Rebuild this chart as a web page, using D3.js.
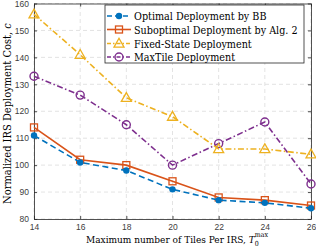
<!DOCTYPE html>
<html><head><meta charset="utf-8">
<script src="https://cdn.jsdelivr.net/npm/d3@7"></script>
<style>body{margin:0;background:#fff}svg{display:block}
.serif{font-family:'DejaVu Serif Condensed','DejaVu Serif',serif;font-stretch:condensed}</style>
</head><body>
<script>
const tiles = [14, 16, 18, 20, 22, 24, 26];
const optimalBB = [111, 101, 98, 91, 87, 86, 84];
const suboptimalAlg2 = [114, 102, 100, 94, 88, 87, 85];
const fixedState = [156, 141, 125, 118, 106, 106, 104];
const maxTile = [133, 126, 115, 100, 108, 116, 93];
const xTicks = [14, 16, 18, 20, 22, 24, 26];
const yTicks = [80, 90, 100, 110, 120, 130, 140, 150, 160];
const seriesNames = ["Optimal Deployment by BB", "Suboptimal Deployment by Alg. 2", "Fixed-State Deployment", "MaxTile Deployment"];

const W = 316, H = 250;
const m = {left: 34, right: 5, top: 3.5, bottom: 31};
const svg = d3.select("body").append("svg").attr("width", W).attr("height", H);
const x = d3.scaleLinear().domain([14, 26]).range([m.left, W - m.right]);
const y = d3.scaleLinear().domain([80, 160]).range([H - m.bottom, m.top]);
const axisCol = "#262626";

// grid
const g = svg.append("g");
g.selectAll(".gx").data(xTicks).enter().append("line")
  .attr("x1", d => x(d)).attr("x2", d => x(d)).attr("y1", y(80)).attr("y2", y(160))
  .attr("stroke", "#dcdcdc").attr("stroke-width", 0.8).attr("stroke-dasharray", "4,3");
g.selectAll(".gy").data(yTicks).enter().append("line")
  .attr("y1", d => y(d)).attr("y2", d => y(d)).attr("x1", x(14)).attr("x2", x(26))
  .attr("stroke", "#dcdcdc").attr("stroke-width", 0.8).attr("stroke-dasharray", "4,3");

// axes
const tickFont = "'Liberation Sans', Arial, sans-serif";
const xa = svg.append("g").attr("transform", `translate(0,${y(80)})`)
  .call(d3.axisBottom(x).tickValues(xTicks).tickSizeInner(-3).tickSizeOuter(0).tickPadding(5));
const xt = svg.append("g").attr("transform", `translate(0,${y(160)})`)
  .call(d3.axisTop(x).tickValues(xTicks).tickSizeInner(-3).tickSizeOuter(0).tickFormat(""));
const ya = svg.append("g").attr("transform", `translate(${x(14)},0)`)
  .call(d3.axisLeft(y).tickValues(yTicks).tickSizeInner(-3).tickSizeOuter(0).tickPadding(5));
const yr = svg.append("g").attr("transform", `translate(${x(26)},0)`)
  .call(d3.axisRight(y).tickValues(yTicks).tickSizeInner(-3).tickSizeOuter(0).tickFormat(""));
[xa, xt, ya, yr].forEach(a => {
  a.select(".domain").attr("stroke", axisCol).attr("stroke-width", 0.8);
  a.selectAll(".tick line").attr("stroke", axisCol).attr("stroke-width", 0.8);
  a.selectAll("text").attr("fill", "#404040").attr("font-family", tickFont).attr("font-size", 8.5);
});

// series
const series = [
  {name: seriesNames[0], vals: optimalBB, color: "#0072BD", dash: "6,3.5", marker: "dot"},
  {name: seriesNames[1], vals: suboptimalAlg2, color: "#D95319", dash: null, marker: "square"},
  {name: seriesNames[2], vals: fixedState, color: "#EDB120", dash: "6,2.5,1.5,2.5", marker: "triangle"},
  {name: seriesNames[3], vals: maxTile, color: "#7E2F8E", dash: "6,2.5,1.5,2.5", marker: "circle"}
];
function drawMarker(sel, s, cx, cy) {
  if (s.marker === "dot") {
    sel.append("circle").attr("cx", cx).attr("cy", cy).attr("r", 3.2).attr("fill", s.color);
  } else if (s.marker === "square") {
    sel.append("rect").attr("x", cx - 3.5).attr("y", cy - 3.5).attr("width", 7).attr("height", 7)
      .attr("fill", "none").attr("stroke", s.color).attr("stroke-width", 1.3);
  } else if (s.marker === "triangle") {
    sel.append("path").attr("d", `M${cx},${cy - 5.2}L${cx + 5},${cy + 3.6}L${cx - 5},${cy + 3.6}Z`)
      .attr("fill", "none").attr("stroke", s.color).attr("stroke-width", 1.3);
  } else {
    sel.append("circle").attr("cx", cx).attr("cy", cy).attr("r", 4)
      .attr("fill", "none").attr("stroke", s.color).attr("stroke-width", 1.4);
  }
}
const line = d3.line().x((d, i) => x(tiles[i])).y(d => y(d));
const plot = svg.append("g");
[3, 2, 1, 0].forEach(k => {
  const s = series[k];
  const p = plot.append("path").attr("d", line(s.vals)).attr("fill", "none")
    .attr("stroke", s.color).attr("stroke-width", 1.6);
  if (s.dash) p.attr("stroke-dasharray", s.dash);
  s.vals.forEach((v, i) => drawMarker(plot, s, x(tiles[i]), y(v)));
});

// legend
const lg = svg.append("g");
lg.append("rect").attr("x", 105).attr("y", 5).attr("width", 199).attr("height", 58)
  .attr("fill", "#fff").attr("stroke", axisCol).attr("stroke-width", 0.8);
const rowsY = [16, 29.5, 43.5, 57];
series.forEach((s, i) => {
  const ly = rowsY[i];
  const l = lg.append("line").attr("x1", 107).attr("x2", 131).attr("y1", ly).attr("y2", ly)
    .attr("stroke", s.color).attr("stroke-width", 1.6);
  if (s.dash) l.attr("stroke-dasharray", s.marker === "dot" ? "5,3" : "4,2,1.5,2");
  drawMarker(lg, s, 119, ly);
  lg.append("text").attr("class", "serif").attr("x", 134).attr("y", ly + 4).text(s.name)
    .attr("font-size", 10.7).attr("fill", "#000");
});

// axis labels
const xl = svg.append("text").attr("class", "serif").attr("x", 177).attr("y", 243)
  .attr("text-anchor", "middle").attr("font-size", 10).attr("fill", "#000");
xl.append("tspan").text("Maximum number of Tiles Per IRS, ");
xl.append("tspan").attr("font-style", "italic").text("T");
xl.append("tspan").attr("dy", 3).attr("font-size", 7).text("0");
xl.append("tspan").attr("dx", -4).attr("dy", -9).attr("font-size", 7).text("max");

const yl = svg.append("text").attr("class", "serif").attr("transform", `translate(11,113.5) rotate(-90)`)
  .attr("text-anchor", "middle").attr("font-size", 11).attr("fill", "#000");
yl.append("tspan").text("Normalized IRS Deployment Cost, ");
yl.append("tspan").attr("font-style", "italic").text("c");
</script>
</body></html>
